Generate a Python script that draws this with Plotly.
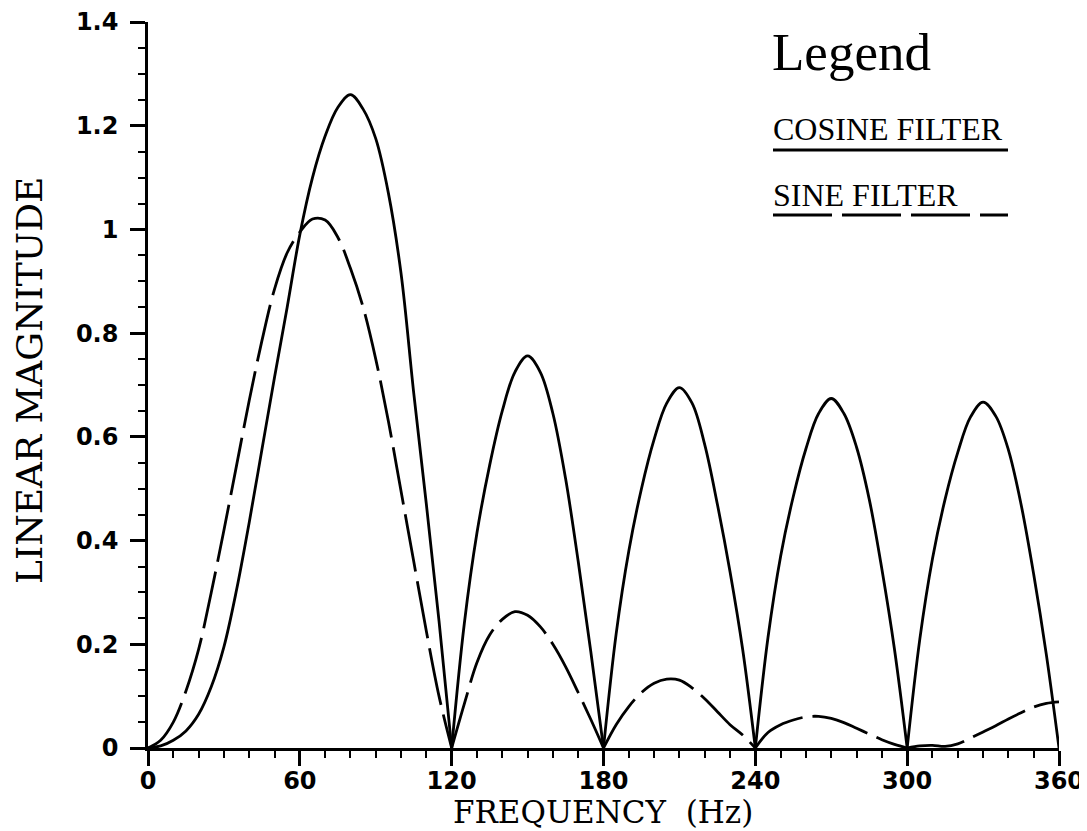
import plotly.graph_objects as go

# ---------------- data ----------------
freq = list(range(0, 361, 5))  # Hz

cosine_mag = [
    0.0, 0.004, 0.015, 0.033, 0.065, 0.118, 0.195, 0.305, 0.435, 0.575, 0.715, 0.85,
    0.99, 1.10, 1.18, 1.235, 1.26, 1.232, 1.175, 1.07, 0.915, 0.685, 0.47, 0.245, 0.0,
    0.24, 0.415, 0.545, 0.65, 0.725, 0.756, 0.725, 0.645, 0.52, 0.36, 0.185, 0.0,
    0.22, 0.38, 0.50, 0.595, 0.665, 0.695, 0.665, 0.585, 0.47, 0.34, 0.19, 0.0,
    0.213, 0.37, 0.485, 0.577, 0.645, 0.674, 0.645, 0.58, 0.48, 0.345, 0.19, 0.0,
    0.21, 0.365, 0.48, 0.57, 0.638, 0.667, 0.64, 0.575, 0.47, 0.335, 0.18, 0.0,
]

sine_mag = [
    0.0, 0.015, 0.05, 0.11, 0.19, 0.30, 0.42, 0.545, 0.67, 0.785, 0.885, 0.955,
    0.995, 1.02, 1.018, 0.985, 0.925, 0.85, 0.75, 0.63, 0.495, 0.36, 0.225, 0.10, 0.0,
    0.085, 0.165, 0.218, 0.248, 0.263, 0.256, 0.234, 0.20, 0.157, 0.107, 0.055, 0.0,
    0.045, 0.08, 0.107, 0.125, 0.133, 0.131, 0.116, 0.095, 0.07, 0.045, 0.025, 0.0,
    0.03, 0.045, 0.054, 0.06, 0.061, 0.057, 0.049, 0.038, 0.027, 0.016, 0.007, 0.0,
    0.004, 0.005, 0.003, 0.008, 0.019, 0.031, 0.043, 0.056, 0.068, 0.079, 0.086, 0.089,
]

null_freqs = [120, 180, 240, 300]          # harmonic nulls (cusps)
x_ticks = [0, 60, 120, 180, 240, 300, 360]
y_ticks = [0, 0.2, 0.4, 0.6, 0.8, 1.0, 1.2, 1.4]
y_tick_text = ["0", "0.2", "0.4", "0.6", "0.8", "1", "1.2", "1.4"]

x_title = "FREQUENCY  (Hz)"
y_title = "LINEAR MAGNITUDE"
legend_title = "Legend"
series_names = ["COSINE FILTER", "SINE FILTER"]


def segmented(fx, vals):
    """Split the curve at the nulls so each lobe is its own smooth piece."""
    xs, ys = [], []
    for f, v in zip(fx, vals):
        xs.append(f)
        ys.append(v)
        if f in null_freqs:
            xs += [None, f]
            ys += [None, v]
    return xs, ys


LW = 2.8
DASH = "58px,10px"

fig = go.Figure()
cx, cy = segmented(freq, cosine_mag)
sx, sy = segmented(freq, sine_mag)
fig.add_trace(go.Scatter(x=cx, y=cy, mode="lines", name=series_names[0],
                         line=dict(color="black", width=LW, shape="spline", smoothing=1.0),
                         connectgaps=False, showlegend=False))
fig.add_trace(go.Scatter(x=sx, y=sy, mode="lines", name=series_names[1],
                         line=dict(color="black", width=LW, shape="spline", smoothing=1.0, dash=DASH),
                         connectgaps=False, showlegend=False))

tickfont = dict(family="DejaVu Sans", size=24, color="black", weight="bold")

# target plot-area edges in page pixels; the html body adds an 8px offset
PAGE_OFF = 8
plot_l, plot_r, plot_t, plot_b = 148, 1059, 22, 748
W, H = 1087 - PAGE_OFF, 831 - PAGE_OFF

fig.update_layout(
    width=W, height=H,
    margin=dict(l=plot_l - PAGE_OFF, r=W - (plot_r - PAGE_OFF),
                t=plot_t - PAGE_OFF, b=H - (plot_b - PAGE_OFF)),
    paper_bgcolor="white", plot_bgcolor="white",
    showlegend=False,
    xaxis=dict(
        range=[0, 360], tickvals=x_ticks, ticktext=[str(t) for t in x_ticks],
        showline=True, linecolor="black", linewidth=2.5,
        ticks="outside", ticklen=15, tickwidth=2.5, tickcolor="black",
        minor=dict(dtick=10, ticks="outside", ticklen=7, tickwidth=2, tickcolor="black"),
        showgrid=False, zeroline=False, tickfont=tickfont, automargin=False,
        ticklabelstandoff=-6,
    ),
    yaxis=dict(
        range=[0, 1.4], tickvals=y_ticks, ticktext=y_tick_text,
        showline=True, linecolor="black", linewidth=2.5,
        ticks="outside", ticklen=15, tickwidth=2.5, tickcolor="black",
        minor=dict(dtick=0.05, ticks="outside", ticklen=7, tickwidth=2, tickcolor="black"),
        showgrid=False, zeroline=False, tickfont=tickfont, automargin=False,
        ticklabelstandoff=7,
    ),
)


def px2paper(px, py):
    return (px - plot_l) / (plot_r - plot_l), (plot_b - py) / (plot_b - plot_t)


# axis titles as positioned text
tx, ty = px2paper(603, 812)
fig.add_annotation(x=tx, y=ty, xref="paper", yref="paper", text=x_title, showarrow=False,
                   xanchor="center", yanchor="middle",
                   font=dict(family="DejaVu Serif", size=31, color="black"))
tx, ty = px2paper(29, 381)
fig.add_annotation(x=tx, y=ty, xref="paper", yref="paper", text=y_title, showarrow=False,
                   xanchor="center", yanchor="middle", textangle=-90,
                   font=dict(family="DejaVu Serif", size=36, color="black"))

# ---------------- legend drawn as text + sample lines ----------------
lx, ly = px2paper(770, 52)
fig.add_annotation(x=lx, y=ly, xref="paper", yref="paper", text=legend_title,
                   showarrow=False, xanchor="left", yanchor="middle",
                   font=dict(family="Liberation Serif", size=53, color="black"))
for name, ty_, uy, dash in [(series_names[0], 129, 150, "solid"),
                            (series_names[1], 195, 215, "59px,10px")]:
    ax_, ay_ = px2paper(771, ty_)
    fig.add_annotation(x=ax_, y=ay_, xref="paper", yref="paper", text=name,
                       showarrow=False, xanchor="left", yanchor="middle",
                       font=dict(family="Liberation Serif", size=32, color="black"))
    x0, y0 = px2paper(773, uy)
    x1, _ = px2paper(1008, uy)
    fig.add_shape(type="line", xref="paper", yref="paper", x0=x0, x1=x1, y0=y0, y1=y0,
                  line=dict(color="black", width=2.8, dash=dash))

fig.write_html("out.html")
